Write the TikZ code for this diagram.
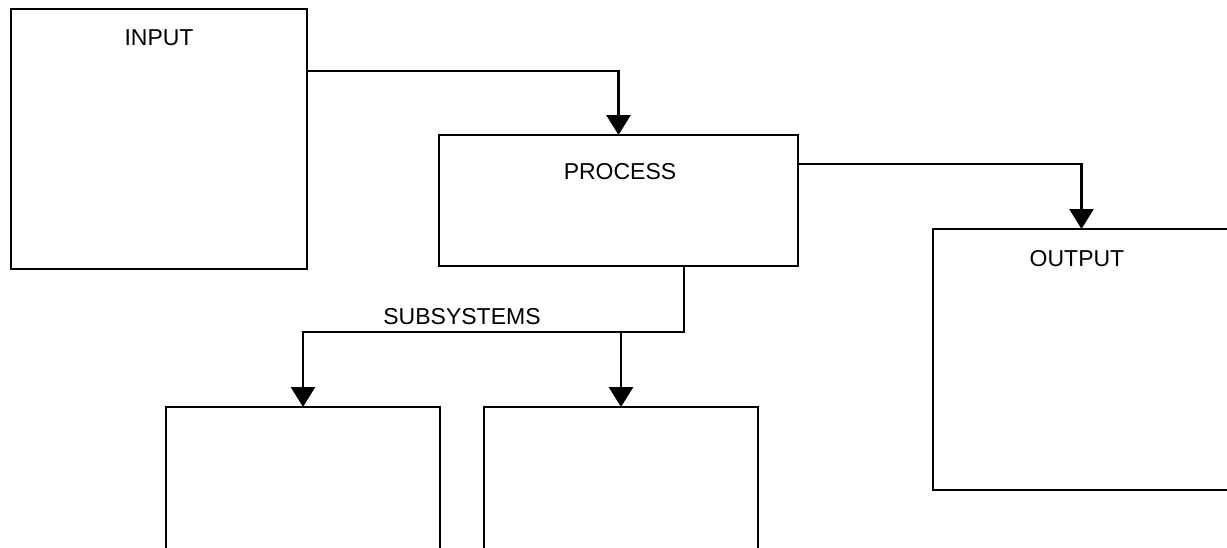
\documentclass[tikz,border=0pt]{standalone}
\usepackage{fontspec}
\setmainfont{Liberation Sans}
\usetikzlibrary{arrows.meta,calc}

\tikzset{
  block/.style={draw=black, line width=2.8pt, fill=white, inner sep=0pt, outer sep=0pt, anchor=north west},
  caption/.style={anchor=base, inner sep=0pt, font=\fontsize{23}{27}\selectfont},
  flow/.style={draw=black, line width=2.8pt, -{Triangle[length=20pt,width=24pt]}},
}

\begin{document}
\begin{tikzpicture}[x=1pt, y=-1pt]
  \useasboundingbox (0,0) rectangle (1227,547);
  \clip (0,0) rectangle (1227,547);

  % main blocks
  \node[block, minimum width=296pt, minimum height=260pt] (input)   at (11,9)   {};
  \node[block, minimum width=359pt, minimum height=131pt] (process) at (439,135) {};
  \node[block, minimum width=297pt, minimum height=261pt] (output)  at (933,229) {};
  \node[block, minimum width=274pt, minimum height=220pt] (subA)    at (166,407) {};
  \node[block, minimum width=274pt, minimum height=220pt] (subB)    at (484,407) {};

  % block titles
  \node[caption] (tin)  at (159,45)  {INPUT};
  \node[caption] (tpr)  at (620,179) {PROCESS};
  \node[caption] (tout) at (1077,266) {OUTPUT};
  \node[caption] (tsub) at (462,324) {SUBSYSTEMS};

  % connectors
  \coordinate (inOut)   at ($(input.north east)+(0,62)$);
  \coordinate (prOut)   at ($(process.north east)+(0,29)$);
  \coordinate (prDown)  at ($(process.south)+(65.5,0)$);
  \coordinate (busR)    at ($(prDown)+(0,66)$);
  \coordinate (busB)    at (subB.north |- busR);

  \draw[flow] (inOut) -| (process.north);
  \draw[flow] (prOut) -| (output.north);
  \draw[flow] (prDown) -- (busR) -| (subA.north);
  \draw[flow] (busB) -- (subB.north);
\end{tikzpicture}
\end{document}
